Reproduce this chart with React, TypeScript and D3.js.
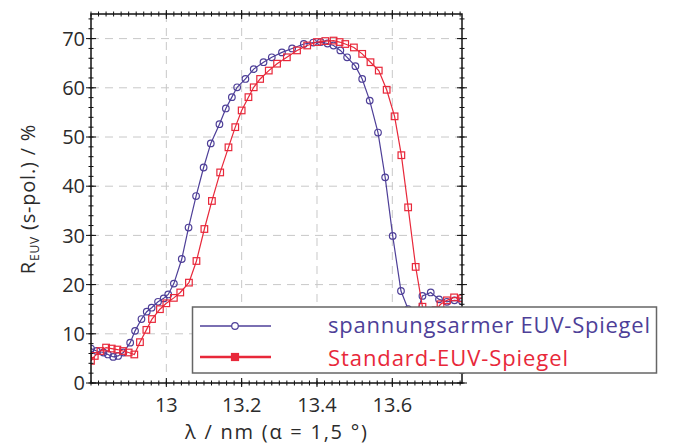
import * as d3 from "d3";
import React from "react";

// spannungsarmer EUV-Spiegel (blue circles)
const lambdaLow = [
  12.8, 12.815, 12.833, 12.845, 12.859, 12.872, 12.886, 12.904, 12.917, 12.934,
  12.948, 12.961, 12.978, 12.993, 13.005, 13.02, 13.041, 13.059, 13.079, 13.099,
  13.118, 13.141, 13.158, 13.174, 13.188, 13.21, 13.232, 13.258, 13.28, 13.307,
  13.334, 13.365, 13.39, 13.41, 13.428, 13.444, 13.462, 13.48, 13.502, 13.52,
  13.54, 13.562, 13.581, 13.601, 13.623, 13.642, 13.658, 13.68, 13.702, 13.724,
  13.745, 13.765, 13.785,
];
const reflLow = [
  7.0, 6.5, 6.2, 5.8, 5.3, 5.5, 6.2, 8.2, 10.6, 13.0,
  14.5, 15.3, 16.5, 17.2, 18.0, 20.2, 25.2, 31.6, 38.0, 43.8,
  48.7, 52.6, 55.8, 58.1, 60.1, 61.8, 63.8, 65.2, 66.2, 67.2,
  68.0, 68.9, 69.2, 69.3, 69.0, 68.6, 67.6, 66.2, 64.4, 61.8,
  57.4, 50.9, 41.8, 29.9, 18.7, 15.0, 12.5, 17.7, 18.4, 17.0,
  16.5, 16.8, 16.6,
];

// Standard-EUV-Spiegel (red squares)
const lambdaStd = [
  12.8, 12.81, 12.825, 12.84, 12.855, 12.87, 12.885, 12.9, 12.915, 12.93,
  12.947, 12.962, 12.983, 13.0, 13.02, 13.037, 13.06, 13.08, 13.101, 13.121,
  13.143, 13.165, 13.183, 13.2, 13.218, 13.232, 13.249, 13.272, 13.294, 13.32,
  13.347, 13.374, 13.4, 13.422, 13.444, 13.46, 13.475, 13.498, 13.52, 13.542,
  13.564, 13.585, 13.606, 13.624, 13.642, 13.662, 13.68, 13.698, 13.715, 13.728,
  13.745, 13.764, 13.785,
];
const reflStd = [
  4.5, 5.5, 6.5, 7.2, 7.0, 6.8, 6.5, 6.2, 5.8, 8.3,
  10.8, 13.0, 15.0, 16.2, 17.3, 18.4, 20.4, 24.8, 31.3, 37.0,
  42.8, 47.9, 52.0, 55.4, 58.1, 60.1, 61.8, 63.5, 64.9, 66.2,
  67.6, 68.6, 69.3, 69.5, 69.6, 69.3, 68.9, 68.2, 66.9, 65.2,
  63.5, 59.6, 54.2, 46.3, 35.7, 23.6, 15.5, 13.5, 14.8, 16.0,
  16.8, 17.4, 17.2,
];

const xTicks = [13, 13.2, 13.4, 13.6];
const yTicks = [0, 10, 20, 30, 40, 50, 60, 70];
const seriesNames = ["spannungsarmer EUV-Spiegel", "Standard-EUV-Spiegel"];

const W = 674;
const H = 446;
const left = 91, top = 14, right = 462, bottom = 383;
const blue = "#4e3f98";
const red = "#e8283a";
const ink = "#2b2b2b";
const font = "'Open Sans', 'Noto Sans', sans-serif";

export default function App() {
  const x = d3.scaleLinear().domain([12.8, 13.785]).range([left, right]);
  const y = d3.scaleLinear().domain([0, 75]).range([bottom, top]);

  const low = lambdaLow.map((l, i) => [l, reflLow[i]] as [number, number]);
  const std = lambdaStd.map((l, i) => [l, reflStd[i]] as [number, number]);
  const line = d3.line<[number, number]>().x((d) => x(d[0])).y((d) => y(d[1]));

  const minorX = d3.range(12.8, 13.79, 0.02);
  const minorY = d3.range(0, 75.1, 2);

  return (
    <svg width={W} height={H} style={{ position: "absolute", left: 0, top: 0, background: "#fff" }}>
      <defs>
        <clipPath id="plot">
          <rect x={left} y={top} width={right - left} height={bottom - top} />
        </clipPath>
      </defs>
      {/* grid */}
      {xTicks.map((t) => (
        <line key={"gx" + t} x1={x(t)} x2={x(t)} y1={top} y2={bottom} stroke="#c8c8c8" strokeDasharray="8,6" />
      ))}
      {yTicks.slice(1).map((t) => (
        <line key={"gy" + t} x1={left} x2={right} y1={y(t)} y2={y(t)} stroke="#c8c8c8" strokeDasharray="8,6" />
      ))}

      {/* curves */}
      <g clipPath="url(#plot)">
        <path d={line(low) || ""} fill="none" stroke={blue} strokeWidth={1.2} />
        {low.map((d, i) => (
          <circle key={"c" + i} cx={x(d[0])} cy={y(d[1])} r={3.3} fill="none" stroke={blue} strokeWidth={1.2} />
        ))}
        <path d={line(std) || ""} fill="none" stroke={red} strokeWidth={1.2} />
        {std.map((d, i) => (
          <rect key={"s" + i} x={x(d[0]) - 3.3} y={y(d[1]) - 3.3} width={6.6} height={6.6} fill="none" stroke={red} strokeWidth={1.2} />
        ))}
      </g>

      {/* minor ticks on all four sides */}
      {minorX.map((t, i) => (
        <g key={"mx" + i} stroke="#111" strokeWidth={1}>
          <line x1={x(t)} x2={x(t)} y1={bottom - 2.5} y2={bottom + 2.5} />
          <line x1={x(t)} x2={x(t)} y1={top - 2.5} y2={top + 2.5} />
        </g>
      ))}
      {minorY.map((t, i) => (
        <g key={"my" + i} stroke="#111" strokeWidth={1}>
          <line x1={left - 2.5} x2={left + 2.5} y1={y(t)} y2={y(t)} />
          <line x1={right - 2.5} x2={right + 2.5} y1={y(t)} y2={y(t)} />
        </g>
      ))}
      {xTicks.map((t) => (
        <g key={"Mx" + t} stroke="#111" strokeWidth={1}>
          <line x1={x(t)} x2={x(t)} y1={bottom - 5} y2={bottom + 4} />
          <line x1={x(t)} x2={x(t)} y1={top - 4} y2={top + 5} />
        </g>
      ))}
      {yTicks.map((t) => (
        <g key={"My" + t} stroke="#111" strokeWidth={1}>
          <line x1={left - 5} x2={left + 5} y1={y(t)} y2={y(t)} />
          <line x1={right - 5} x2={right + 5} y1={y(t)} y2={y(t)} />
        </g>
      ))}
      <rect x={left} y={top} width={right - left} height={bottom - top} fill="none" stroke="#111" strokeWidth={1.5} />

      {/* tick labels */}
      {yTicks.map((t) => (
        <text key={"ly" + t} x={left - 6} y={y(t)} dy="0.36em" textAnchor="end" fontFamily={font} fontSize={20} fill={ink}>
          {t}
        </text>
      ))}
      {xTicks.map((t) => (
        <text key={"lx" + t} x={x(t)} y={412} textAnchor="middle" fontFamily={font} fontSize={20} fill={ink}>
          {t}
        </text>
      ))}

      {/* axis titles */}
      <text x={185} y={439} textLength={182} lengthAdjust="spacing" fontFamily={font} fontSize={20} fill={ink}>
        λ / nm (α = 1,5 °)
      </text>
      <text transform="translate(35,199) rotate(-90)" textAnchor="middle" fontFamily={font} fontSize={20} letterSpacing={0.8} fill={ink}>
        R<tspan fontSize={12} dy={4}>EUV</tspan>
        <tspan dy={-4}> (s-pol.) / %</tspan>
      </text>

      {/* legend */}
      <rect x={192.5} y={307} width={464} height={66} fill="#fff" stroke="#666" strokeWidth={1.5} />
      <line x1={200} x2={271} y1={326} y2={326} stroke={blue} strokeWidth={1.5} />
      <circle cx={235} cy={326} r={3.3} fill="#fff" stroke={blue} strokeWidth={1.2} />
      <line x1={200} x2={271} y1={357} y2={357} stroke={red} strokeWidth={2.5} />
      <rect x={231.5} y={353.5} width={7} height={7} fill={red} stroke={red} strokeWidth={1.2} />
      <text x={328} y={333} textLength={322} lengthAdjust="spacing" fontFamily={font} fontSize={22} fill={blue}>
        {seriesNames[0]}
      </text>
      <text x={328} y={366} textLength={240} lengthAdjust="spacing" fontFamily={font} fontSize={22} fill={red}>
        {seriesNames[1]}
      </text>
    </svg>
  );
}
